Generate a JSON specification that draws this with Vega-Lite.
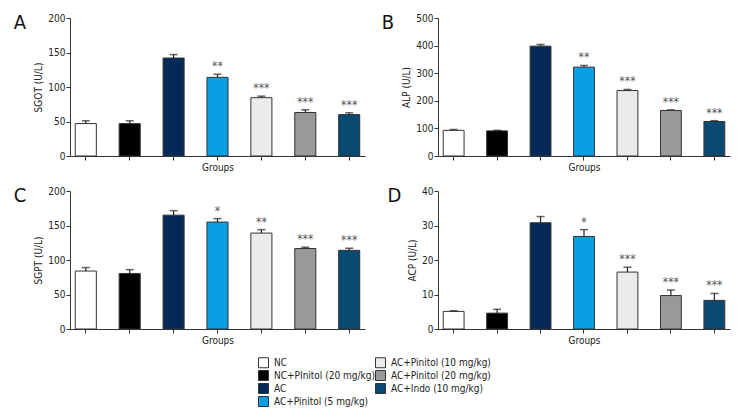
{
  "$schema": "https://vega.github.io/schema/vega-lite/v6.json",
  "background": "white",
  "padding": {"left": 13, "top": 13, "right": 5, "bottom": 5},
  "config": {
    "font": "'Liberation Sans Narrow', 'DejaVu Sans Condensed', Roboto, sans-serif",
    "view": {"stroke": null},
    "axis": {"labelFontSize": 10, "titleFontSize": 10, "titleFontWeight": "normal", "domainColor": "#333", "tickColor": "#333", "labelColor": "#222", "titleColor": "#222", "grid": false, "labelPadding": 1},
    "title": {"fontSize": 20, "fontWeight": "normal", "color": "#111"},
    "legend": {"labelFontSize": 10, "labelColor": "#222"}
  },
  "datasets": {
    "d": [
      {"panel": "A", "group": "NC", "value": 47, "upper": 51, "sig": ""},
      {"panel": "A", "group": "NC+PInitol (20 mg/kg)", "value": 47, "upper": 51, "sig": ""},
      {"panel": "A", "group": "AC", "value": 142, "upper": 147, "sig": ""},
      {"panel": "A", "group": "AC+Pinitol (5 mg/kg)", "value": 114, "upper": 118.5, "sig": "**"},
      {"panel": "A", "group": "AC+Pinitol (10 mg/kg)", "value": 84.5, "upper": 86.7, "sig": "***"},
      {"panel": "A", "group": "AC+Pinitol (20 mg/kg)", "value": 63, "upper": 67, "sig": "***"},
      {"panel": "A", "group": "AC+Indo (10 mg/kg)", "value": 60, "upper": 62.6, "sig": "***"},
      {"panel": "B", "group": "NC", "value": 93, "upper": 96, "sig": ""},
      {"panel": "B", "group": "NC+PInitol (20 mg/kg)", "value": 91, "upper": 93, "sig": ""},
      {"panel": "B", "group": "AC", "value": 398, "upper": 404, "sig": ""},
      {"panel": "B", "group": "AC+Pinitol (5 mg/kg)", "value": 322, "upper": 328, "sig": "**"},
      {"panel": "B", "group": "AC+Pinitol (10 mg/kg)", "value": 237, "upper": 241, "sig": "***"},
      {"panel": "B", "group": "AC+Pinitol (20 mg/kg)", "value": 165, "upper": 167, "sig": "***"},
      {"panel": "B", "group": "AC+Indo (10 mg/kg)", "value": 125, "upper": 128, "sig": "***"},
      {"panel": "C", "group": "NC", "value": 84, "upper": 89, "sig": ""},
      {"panel": "C", "group": "NC+PInitol (20 mg/kg)", "value": 80.5, "upper": 86, "sig": ""},
      {"panel": "C", "group": "AC", "value": 165, "upper": 171.5, "sig": ""},
      {"panel": "C", "group": "AC+Pinitol (5 mg/kg)", "value": 155, "upper": 160, "sig": "*"},
      {"panel": "C", "group": "AC+Pinitol (10 mg/kg)", "value": 139, "upper": 144, "sig": "**"},
      {"panel": "C", "group": "AC+Pinitol (20 mg/kg)", "value": 116.6, "upper": 118.5, "sig": "***"},
      {"panel": "C", "group": "AC+Indo (10 mg/kg)", "value": 114, "upper": 117, "sig": "***"},
      {"panel": "D", "group": "NC", "value": 5.1, "upper": 5.3, "sig": ""},
      {"panel": "D", "group": "NC+PInitol (20 mg/kg)", "value": 4.6, "upper": 5.7, "sig": ""},
      {"panel": "D", "group": "AC", "value": 30.8, "upper": 32.6, "sig": ""},
      {"panel": "D", "group": "AC+Pinitol (5 mg/kg)", "value": 26.8, "upper": 28.8, "sig": "*"},
      {"panel": "D", "group": "AC+Pinitol (10 mg/kg)", "value": 16.5, "upper": 17.9, "sig": "***"},
      {"panel": "D", "group": "AC+Pinitol (20 mg/kg)", "value": 9.7, "upper": 11.3, "sig": "***"},
      {"panel": "D", "group": "AC+Indo (10 mg/kg)", "value": 8.3, "upper": 10.3, "sig": "***"}
    ]
  },
  "columns": 2,
  "spacing": {"column": 16, "row": 13},
  "concat": [
    {
      "width": 295, "height": 138,
      "title": {"text": "A", "anchor": "start", "frame": "bounds", "dx": -20, "dy": 24},
      "data": {"name": "d"},
      "transform": [{"filter": "datum.panel === 'A'"}],
      "encoding": {
        "x": {"field": "group", "type": "nominal", "sort": ["NC", "NC+PInitol (20 mg/kg)", "AC", "AC+Pinitol (5 mg/kg)", "AC+Pinitol (10 mg/kg)", "AC+Pinitol (20 mg/kg)", "AC+Indo (10 mg/kg)"], "scale": {"paddingInner": 0.52, "paddingOuter": 0.12}, "axis": {"labels": false, "title": "Groups", "tickSize": 4, "titlePadding": 2}}
      },
      "layer": [
        {"mark": {"type": "bar", "stroke": "#333", "strokeWidth": 1},
         "encoding": {
           "y": {"field": "value", "type": "quantitative", "title": "SGOT (U/L)", "scale": {"domain": [0, 200]}, "axis": {"values": [0, 50, 100, 150, 200], "tickSize": 4}},
           "color": {"field": "group", "type": "nominal", "scale": {"domain": ["NC", "NC+PInitol (20 mg/kg)", "AC", "AC+Pinitol (5 mg/kg)", "AC+Pinitol (10 mg/kg)", "AC+Pinitol (20 mg/kg)", "AC+Indo (10 mg/kg)"], "range": ["#ffffff", "#000000", "#062a57", "#0a9fe2", "#ebebeb", "#999999", "#0a4a72"]},
             "legend": {"title": null, "orient": "none", "legendX": 188, "legendY": 339, "columns": 2, "symbolType": "square", "symbolSize": 100, "symbolStrokeColor": "#333", "symbolStrokeWidth": 1, "rowPadding": -2, "columnPadding": -3, "labelOffset": 5}}
         }},
        {"mark": {"type": "rule", "color": "#222", "strokeWidth": 1.2},
         "encoding": {"y": {"field": "value", "type": "quantitative", "title": "SGOT (U/L)", "axis": {"values": [0, 50, 100, 150, 200], "tickSize": 4}}, "y2": {"field": "upper"}}},
        {"mark": {"type": "tick", "color": "#222", "size": 8, "thickness": 1.5},
         "encoding": {"y": {"field": "upper", "type": "quantitative", "title": "SGOT (U/L)", "axis": {"values": [0, 50, 100, 150, 200], "tickSize": 4}}}},
        {"mark": {"type": "text", "baseline": "bottom", "dy": -1, "fontSize": 12, "color": "#555"},
         "encoding": {"y": {"field": "upper", "type": "quantitative", "title": "SGOT (U/L)", "axis": {"values": [0, 50, 100, 150, 200], "tickSize": 4}}, "text": {"field": "sig"}}}
      ]
    },
    {
      "width": 292, "height": 138,
      "title": {"text": "B", "anchor": "start", "frame": "bounds", "dx": -20, "dy": 24},
      "data": {"name": "d"},
      "transform": [{"filter": "datum.panel === 'B'"}],
      "encoding": {
        "x": {"field": "group", "type": "nominal", "sort": ["NC", "NC+PInitol (20 mg/kg)", "AC", "AC+Pinitol (5 mg/kg)", "AC+Pinitol (10 mg/kg)", "AC+Pinitol (20 mg/kg)", "AC+Indo (10 mg/kg)"], "scale": {"paddingInner": 0.52, "paddingOuter": 0.12}, "axis": {"labels": false, "title": "Groups", "tickSize": 4, "titlePadding": 2}}
      },
      "layer": [
        {"mark": {"type": "bar", "stroke": "#333", "strokeWidth": 1},
         "encoding": {
           "y": {"field": "value", "type": "quantitative", "title": "ALP (U/L)", "scale": {"domain": [0, 500]}, "axis": {"values": [0, 100, 200, 300, 400, 500], "tickSize": 4}},
           "color": {"field": "group", "type": "nominal"}
         }},
        {"mark": {"type": "rule", "color": "#222", "strokeWidth": 1.2},
         "encoding": {"y": {"field": "value", "type": "quantitative", "title": "ALP (U/L)", "axis": {"values": [0, 100, 200, 300, 400, 500], "tickSize": 4}}, "y2": {"field": "upper"}}},
        {"mark": {"type": "tick", "color": "#222", "size": 8, "thickness": 1.5},
         "encoding": {"y": {"field": "upper", "type": "quantitative", "title": "ALP (U/L)", "axis": {"values": [0, 100, 200, 300, 400, 500], "tickSize": 4}}}},
        {"mark": {"type": "text", "baseline": "bottom", "dy": -1, "fontSize": 12, "color": "#555"},
         "encoding": {"y": {"field": "upper", "type": "quantitative", "title": "ALP (U/L)", "axis": {"values": [0, 100, 200, 300, 400, 500], "tickSize": 4}}, "text": {"field": "sig"}}}
      ]
    },
    {
      "width": 295, "height": 138,
      "title": {"text": "C", "anchor": "start", "frame": "bounds", "dx": -20, "dy": 24},
      "data": {"name": "d"},
      "transform": [{"filter": "datum.panel === 'C'"}],
      "encoding": {
        "x": {"field": "group", "type": "nominal", "sort": ["NC", "NC+PInitol (20 mg/kg)", "AC", "AC+Pinitol (5 mg/kg)", "AC+Pinitol (10 mg/kg)", "AC+Pinitol (20 mg/kg)", "AC+Indo (10 mg/kg)"], "scale": {"paddingInner": 0.52, "paddingOuter": 0.12}, "axis": {"labels": false, "title": "Groups", "tickSize": 4, "titlePadding": 2}}
      },
      "layer": [
        {"mark": {"type": "bar", "stroke": "#333", "strokeWidth": 1},
         "encoding": {
           "y": {"field": "value", "type": "quantitative", "title": "SGPT (U/L)", "scale": {"domain": [0, 200]}, "axis": {"values": [0, 50, 100, 150, 200], "tickSize": 4}},
           "color": {"field": "group", "type": "nominal"}
         }},
        {"mark": {"type": "rule", "color": "#222", "strokeWidth": 1.2},
         "encoding": {"y": {"field": "value", "type": "quantitative", "title": "SGPT (U/L)", "axis": {"values": [0, 50, 100, 150, 200], "tickSize": 4}}, "y2": {"field": "upper"}}},
        {"mark": {"type": "tick", "color": "#222", "size": 8, "thickness": 1.5},
         "encoding": {"y": {"field": "upper", "type": "quantitative", "title": "SGPT (U/L)", "axis": {"values": [0, 50, 100, 150, 200], "tickSize": 4}}}},
        {"mark": {"type": "text", "baseline": "bottom", "dy": -1, "fontSize": 12, "color": "#555"},
         "encoding": {"y": {"field": "upper", "type": "quantitative", "title": "SGPT (U/L)", "axis": {"values": [0, 50, 100, 150, 200], "tickSize": 4}}, "text": {"field": "sig"}}}
      ]
    },
    {
      "width": 292, "height": 138,
      "title": {"text": "D", "anchor": "start", "frame": "bounds", "dx": -20, "dy": 24},
      "data": {"name": "d"},
      "transform": [{"filter": "datum.panel === 'D'"}],
      "encoding": {
        "x": {"field": "group", "type": "nominal", "sort": ["NC", "NC+PInitol (20 mg/kg)", "AC", "AC+Pinitol (5 mg/kg)", "AC+Pinitol (10 mg/kg)", "AC+Pinitol (20 mg/kg)", "AC+Indo (10 mg/kg)"], "scale": {"paddingInner": 0.52, "paddingOuter": 0.12}, "axis": {"labels": false, "title": "Groups", "tickSize": 4, "titlePadding": 2}}
      },
      "layer": [
        {"mark": {"type": "bar", "stroke": "#333", "strokeWidth": 1},
         "encoding": {
           "y": {"field": "value", "type": "quantitative", "title": "ACP (U/L)", "scale": {"domain": [0, 40]}, "axis": {"values": [0, 10, 20, 30, 40], "tickSize": 4}},
           "color": {"field": "group", "type": "nominal"}
         }},
        {"mark": {"type": "rule", "color": "#222", "strokeWidth": 1.2},
         "encoding": {"y": {"field": "value", "type": "quantitative", "title": "ACP (U/L)", "axis": {"values": [0, 10, 20, 30, 40], "tickSize": 4}}, "y2": {"field": "upper"}}},
        {"mark": {"type": "tick", "color": "#222", "size": 8, "thickness": 1.5},
         "encoding": {"y": {"field": "upper", "type": "quantitative", "title": "ACP (U/L)", "axis": {"values": [0, 10, 20, 30, 40], "tickSize": 4}}}},
        {"mark": {"type": "text", "baseline": "bottom", "dy": -1, "fontSize": 12, "color": "#555"},
         "encoding": {"y": {"field": "upper", "type": "quantitative", "title": "ACP (U/L)", "axis": {"values": [0, 10, 20, 30, 40], "tickSize": 4}}, "text": {"field": "sig"}}}
      ]
    }
  ]
}
